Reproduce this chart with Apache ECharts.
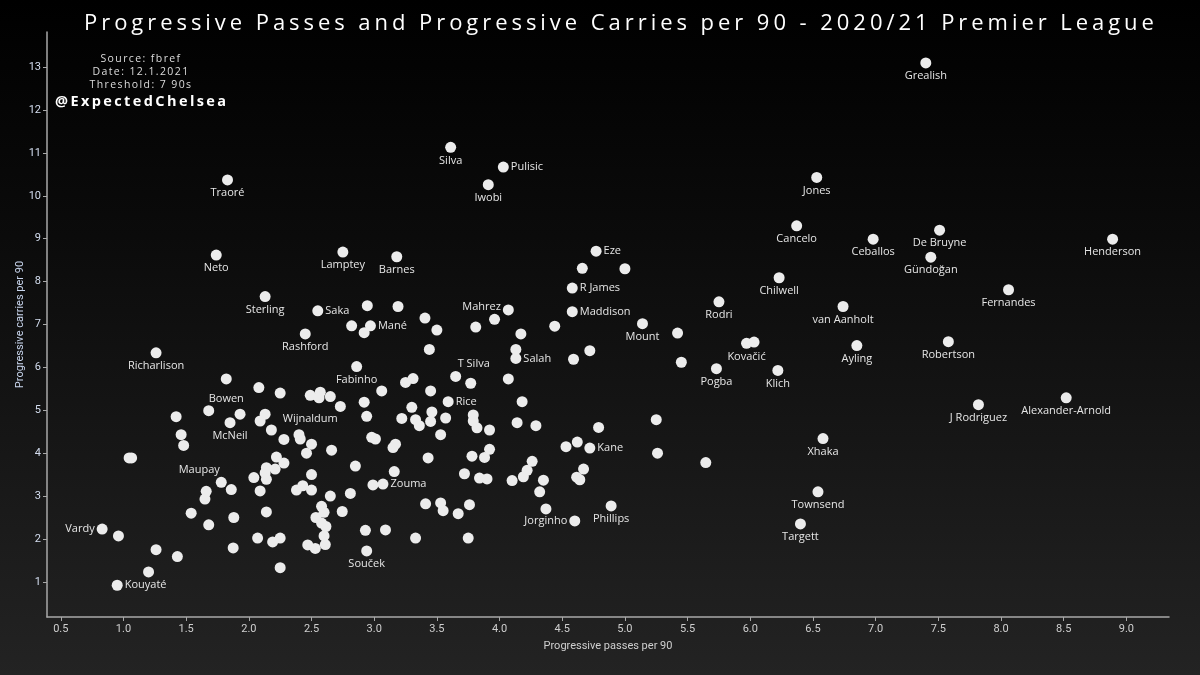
<!DOCTYPE html>
<html>
<head>
<meta charset="utf-8">
<script src="https://cdn.jsdelivr.net/npm/echarts@6/dist/echarts.min.js"></script>
<style>
  html, body { margin: 0; padding: 0; }
  body { width: 1200px; height: 675px; position: relative; overflow: hidden; background: #000; }
  #main { position: absolute; left: 0; top: 0; width: 1200px; height: 675px; }
  .txt { position: absolute; color: #fff; white-space: nowrap; font-family: "Open Sans", sans-serif; }
  #title { left: 84px; top: 6px; font-size: 22px; letter-spacing: 3.95px; }
  #source { left: 60px; top: 52px; width: 162px; text-align: center; font-size: 10.5px; line-height: 13px; letter-spacing: 1.4px; color: #ddd; }
  #handle { left: 55px; top: 91px; font-size: 14.5px; font-weight: bold; letter-spacing: 2.4px; }
</style>
</head>
<body>
<div id="main"></div>
<div class="txt" id="title">Progressive Passes and Progressive Carries per 90 - 2020/21 Premier League</div>
<div class="txt" id="source">Source: fbref<br>Date: 12.1.2021<br>Threshold: 7 90s</div>
<div class="txt" id="handle">@ExpectedChelsea</div>
<script>
// 球员名字（空字符串 = 不显示标签）
var names = [
  'Grealish', 'Silva', 'Pulisic', 'Iwobi', 'Jones', 'Traoré', 'Neto', 'Lamptey', 'Barnes', 'Cancelo',
  'Ceballos', 'De Bruyne', 'Gündoğan', 'Henderson', 'Eze', 'R James', 'Chilwell', 'Fernandes', 'Sterling', 'Saka',
  'Mané', 'Mahrez', 'Maddison', 'Rodri', 'van Aanholt', 'Mount', 'Rashford', 'Richarlison', 'T Silva', 'Salah',
  'Kovačić', 'Ayling', 'Robertson', 'Fabinho', 'Pogba', 'Klich', 'Bowen', 'McNeil', 'Wijnaldum', 'Rice',
  'Zouma', 'Kane', 'Maupay', 'Vardy', 'Kouyaté', 'Souček', 'Jorginho', 'Phillips', 'J Rodriguez', 'Alexander-Arnold',
  'Xhaka', 'Townsend', 'Targett'
];
// progressive passes per 90 (x)
var passes = [
  7.40, 3.61, 4.03, 3.91, 6.53, 1.83, 1.74, 2.75, 3.18, 6.37,
  6.98, 7.51, 7.44, 8.89, 4.77, 4.58, 6.23, 8.06, 2.13, 2.55,
  2.97, 4.07, 4.58, 5.75, 6.74, 5.14, 2.45, 1.26, 3.77, 4.13,
  5.97, 6.85, 7.58, 2.86, 5.73, 6.22, 1.82, 1.85, 2.49, 3.59,
  3.07, 4.72, 1.66, 0.83, 0.95, 2.94, 4.60, 4.89, 7.82, 8.52,
  6.58, 6.54, 6.40,
  // 无标签的点
  4.66, 5.00, 2.945, 3.19, 2.82, 2.92, 3.405, 3.50, 3.81, 3.96,
  4.17, 4.44, 5.42, 3.44, 4.13, 4.72, 4.59, 5.45, 6.03, 3.31,
  3.25, 3.65, 4.07, 2.08, 2.25, 2.57, 2.56, 2.65, 3.06, 3.45,
  2.73, 2.92, 1.68, 1.93, 2.13, 1.42, 2.94, 2.09, 2.18, 2.28,
  3.30, 3.22, 3.33, 3.36, 3.46, 3.45, 3.57, 3.79, 3.79, 3.82,
  3.92, 4.18, 4.14, 4.29, 4.79, 5.25, 5.26, 5.645, 4.53, 4.62,
  1.46, 1.48, 1.045, 1.065, 2.40, 2.41, 2.50, 2.46, 2.66, 2.98,
  3.01, 3.15, 3.17, 3.53, 3.43, 3.78, 3.88, 3.92, 2.22, 2.28,
  2.14, 2.13, 2.14, 2.21, 2.04, 1.78, 1.86, 1.65, 2.09, 2.50,
  2.85, 2.38, 2.43, 2.50, 2.65, 2.81, 3.16, 2.99, 3.72, 3.84,
  3.90, 4.26, 4.22, 4.19, 4.10, 4.35, 4.32, 4.37, 4.67, 4.615,
  4.64, 3.41, 3.53, 3.55, 3.67, 3.76, 1.54, 1.88, 1.68, 2.14,
  2.58, 2.60, 2.535, 2.745, 2.58, 2.615, 2.60, 2.61, 2.47, 2.53,
  2.07, 2.19, 2.25, 1.875, 2.25, 2.93, 3.09, 3.33, 3.75, 0.96,
  1.26, 1.43, 1.20
];
// progressive carries per 90 (y)
var carries = [
  13.10, 11.13, 10.67, 10.26, 10.43, 10.37, 8.62, 8.69, 8.58, 9.30,
  8.99, 9.20, 8.57, 8.99, 8.71, 7.85, 8.09, 7.81, 7.65, 7.32,
  6.97, 7.34, 7.30, 7.53, 7.42, 7.02, 6.78, 6.34, 5.63, 6.21,
  6.56, 6.51, 6.60, 6.02, 5.97, 5.93, 5.73, 4.71, 5.35, 5.20,
  3.28, 4.12, 3.11, 2.23, 0.92, 1.72, 2.42, 2.77, 5.13, 5.29,
  4.34, 3.10, 2.35,
  8.31, 8.30, 7.44, 7.42, 6.97, 6.81, 7.15, 6.87, 6.94, 7.12,
  6.78, 6.96, 6.80, 6.42, 6.42, 6.39, 6.19, 6.12, 6.59, 5.74,
  5.65, 5.79, 5.73, 5.53, 5.40, 5.42, 5.29, 5.32, 5.45, 5.45,
  5.09, 5.19, 4.99, 4.91, 4.91, 4.85, 4.86, 4.75, 4.54, 4.32,
  5.07, 4.81, 4.78, 4.64, 4.96, 4.74, 4.82, 4.89, 4.75, 4.59,
  4.54, 5.20, 4.71, 4.64, 4.60, 4.78, 4.00, 3.78, 4.15, 4.26,
  4.43, 4.18, 3.89, 3.89, 4.43, 4.33, 4.21, 4.00, 4.07, 4.37,
  4.33, 4.13, 4.21, 4.43, 3.89, 3.93, 3.90, 4.09, 3.91, 3.77,
  3.66, 3.54, 3.39, 3.63, 3.43, 3.32, 3.15, 2.93, 3.12, 3.50,
  3.70, 3.14, 3.24, 3.14, 3.00, 3.06, 3.57, 3.26, 3.52, 3.42,
  3.40, 3.81, 3.60, 3.45, 3.36, 3.37, 3.10, 2.70, 3.63, 3.44,
  3.38, 2.82, 2.84, 2.66, 2.59, 2.80, 2.60, 2.50, 2.33, 2.63,
  2.76, 2.62, 2.50, 2.64, 2.37, 2.29, 2.07, 1.87, 1.86, 1.78,
  2.02, 1.93, 2.02, 1.79, 1.33, 2.20, 2.21, 2.02, 2.02, 2.07,
  1.75, 1.59, 1.23
];
var xTicks = [0.5, 1, 1.5, 2, 2.5, 3, 3.5, 4, 4.5, 5, 5.5, 6, 6.5, 7, 7.5, 8, 8.5, 9];
var yTicks = [1, 2, 3, 4, 5, 6, 7, 8, 9, 10, 11, 12, 13];

// 标签位置（默认在点下方）
var labelSide = {
  'Pulisic': 'right', 'Eze': 'right', 'R James': 'right', 'Maddison': 'right', 'Saka': 'right',
  'Mané': 'right', 'Salah': 'right', 'Rice': 'right', 'Zouma': 'right', 'Kane': 'right',
  'Kouyaté': 'right', 'Mahrez': 'left', 'Vardy': 'left', 'Jorginho': 'left',
  'T Silva': 'top', 'Maupay': 'top'
};
// 个别标签微调 [dx, dy]
var labelShift = {
  'T Silva': [3, -6], 'Maupay': [-7, -8], 'Wijnaldum': [0, 11], 'Bowen': [0, 7], 'Mahrez': [0, -3]
};

var myChart = echarts.init(document.getElementById('main'));

var points = [];
for (var i = 0; i < passes.length; i++) {
  var nm = names[i] || '';
  var item = { value: [passes[i], carries[i]], name: nm };
  if (nm) {
    item.label = {
      show: true,
      position: labelSide[nm] || 'bottom',
      distance: 2
    };
  }
  points.push(item);
}

var axisText = '#cfcfcf';
var option = {
  backgroundColor: {
    type: 'linear', x: 0, y: 0, x2: 0, y2: 1,
    colorStops: [{ offset: 0, color: '#000000' }, { offset: 0.35, color: '#0b0b0b' }, { offset: 1, color: '#232323' }]
  },
  animation: false,
  grid: { left: 47, right: 31, top: 32, bottom: 58 },
  xAxis: {
    type: 'value',
    min: 0.39,
    max: 9.34,
    name: 'Progressive passes per 90',
    nameLocation: 'middle',
    nameGap: 24,
    nameTextStyle: { color: axisText, fontSize: 11, fontFamily: 'Roboto' },
    axisLine: { show: true, lineStyle: { color: '#a8a8a8', width: 1.5 } },
    axisTick: { show: true, length: 4, lineStyle: { color: '#a8a8a8' }, customValues: xTicks },
    axisLabel: {
      color: axisText, fontSize: 11, fontFamily: 'Roboto', margin: 7,
      customValues: xTicks,
      formatter: function (v) { return v.toFixed(1); }
    },
    splitLine: { show: false }
  },
  yAxis: {
    type: 'value',
    min: 0.18,
    max: 13.82,
    name: 'Progressive carries per 90',
    nameLocation: 'middle',
    nameGap: 21,
    nameMoveOverlap: false,
    nameTextStyle: { color: '#c9d6ee', fontSize: 11, fontFamily: 'Roboto' },
    axisLine: { show: true, lineStyle: { color: '#a8a8a8', width: 1.5 } },
    axisTick: { show: true, length: 4, lineStyle: { color: '#a8a8a8' }, customValues: yTicks },
    axisLabel: { color: '#d4def0', fontSize: 11, fontFamily: 'Roboto', margin: 6, customValues: yTicks },
    splitLine: { show: false }
  },
  series: [{
    type: 'scatter',
    symbolSize: 11,
    itemStyle: { color: '#ececec', opacity: 1 },
    label: { show: false, color: '#e6e6e6', fontSize: 11, fontFamily: 'Open Sans', formatter: '{b}' },
    labelLayout: function (p) {
      var s = labelShift[names[p.dataIndex]];
      return s ? { dx: s[0], dy: s[1] } : {};
    },
    emphasis: { disabled: true },
    data: points
  }]
};
myChart.setOption(option);
</script>
</body>
</html>
